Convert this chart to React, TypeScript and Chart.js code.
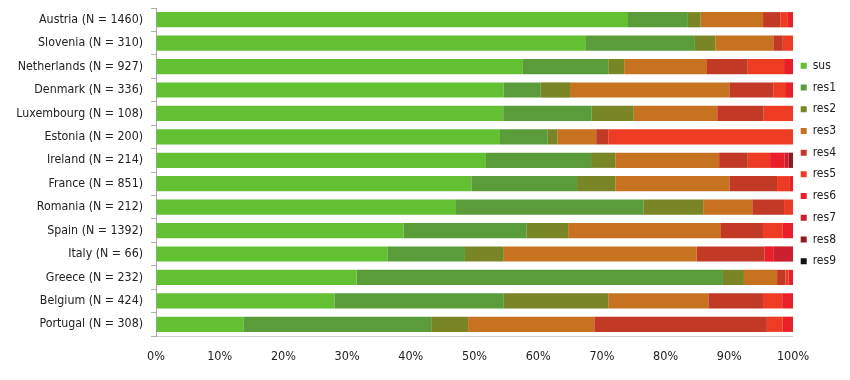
import React, { useEffect, useRef } from "react";
import { Chart, registerables } from "chart.js";

Chart.register(...registerables);

const countries = ["Austria", "Slovenia", "Netherlands", "Denmark", "Luxembourg", "Estonia", "Ireland", "France", "Romania", "Spain", "Italy", "Greece", "Belgium", "Portugal"];
const sampleSizes = [1460, 310, 927, 336, 108, 200, 214, 851, 212, 1392, 66, 232, 424, 308];

const sus = [74.1, 67.5, 57.6, 54.6, 54.5, 54.0, 51.8, 49.5, 47.1, 38.9, 36.4, 31.5, 28.0, 13.8];
const res1 = [9.4, 17.1, 13.4, 5.8, 13.9, 7.5, 16.5, 16.6, 29.4, 19.3, 12.1, 57.5, 26.6, 29.4];
const res2 = [2.0, 3.2, 2.5, 4.6, 6.6, 1.5, 3.8, 6.0, 9.4, 6.5, 6.1, 3.3, 16.4, 5.8];
const res3 = [9.8, 9.1, 13.0, 25.0, 13.1, 6.1, 16.3, 17.9, 7.7, 24.0, 30.3, 5.2, 15.7, 19.8];
const res4 = [2.7, 1.5, 6.4, 6.9, 7.3, 1.9, 4.5, 7.5, 5.0, 6.6, 10.6, 1.3, 8.6, 27.1];
const res5 = [1.2, 1.6, 5.7, 2.0, 4.6, 29.0, 3.5, 1.9, 1.4, 3.1, 0, 0.5, 3.0, 2.5];
const res6 = [0.8, 0, 1.4, 1.1, 0, 0, 2.3, 0.6, 0, 1.6, 1.5, 0.7, 1.7, 1.6];
const res7 = [0, 0, 0, 0, 0, 0, 0.6, 0, 0, 0, 3.0, 0, 0, 0];
const res8 = [0, 0, 0, 0, 0, 0, 0.7, 0, 0, 0, 0, 0, 0, 0];
const res9 = [0, 0, 0, 0, 0, 0, 0, 0, 0, 0, 0, 0, 0, 0];

const seriesNames = ["sus", "res1", "res2", "res3", "res4", "res5", "res6", "res7", "res8", "res9"];
const seriesValues = [sus, res1, res2, res3, res4, res5, res6, res7, res8, res9];
const seriesColors = ["#62c032", "#5a9b3a", "#7a8526", "#c67220", "#c23a26", "#ee3b23", "#e91f29", "#cc1f2e", "#8c1a22", "#111111"];

const xTicks = [0, 10, 20, 30, 40, 50, 60, 70, 80, 90, 100];

const FONT = "'DejaVu Sans Condensed', 'DejaVu Sans', sans-serif";

const legendShift = {
  id: "legendShift",
  afterLayout(chart: any) {
    const lg = chart.legend;
    if (!lg) return;
    const ca = chart.chartArea;
    // centre the legend items around y ≈ 163 and place boxes at x ≈ 801
    const dy = 163.5 - (ca.top + ca.bottom) / 2;
    const dx = -2;
    lg.top += dy;
    lg.bottom += dy;
    lg.left += dx;
    lg.right += dx;
  },
};

export default function App() {
  const ref = useRef<HTMLCanvasElement>(null);
  useEffect(() => {
    if (!ref.current) return;
    const labels = countries.map((c, i) => `${c} (N = ${sampleSizes[i]})`);
    const chart = new Chart(ref.current, {
      type: "bar",
      data: {
        labels,
        datasets: seriesNames.map((name, i) => ({
          label: name,
          data: seriesValues[i],
          backgroundColor: seriesColors[i],
          borderWidth: 0,
          categoryPercentage: 1,
          barPercentage: 0.65,
        })),
      },
      plugins: [legendShift],
      options: {
        indexAxis: "y",
        animation: false,
        responsive: false,
        maintainAspectRatio: false,
        layout: { padding: { top: 8, right: 2, left: 0, bottom: 0 } },
        plugins: {
          tooltip: { enabled: false },
          legend: {
            position: "right",
            fullSize: false,
            labels: {
              boxWidth: 6,
              boxHeight: 6,
              padding: 9.7,
              color: "#222",
              font: { family: FONT, size: 12 },
            },
          },
        },
        scales: {
          x: {
            stacked: true,
            min: 0,
            max: 100,
            afterBuildTicks: (scale: any) => {
              scale.ticks = xTicks.map((v) => ({ value: v }));
            },
            afterFit: (scale: any) => {
              scale.height = 44;
            },
            grid: { display: true, drawOnChartArea: false, drawTicks: false },
            border: { display: true, color: "#cfcfcf", width: 1 },
            ticks: {
              padding: 13,
              color: "#222",
              font: { family: FONT, size: 12.5 },
              callback: (v: any) => `${v}%`,
              maxRotation: 0,
            },
          },
          y: {
            stacked: true,
            afterFit: (scale: any) => {
              scale.width = 156;
              scale.paddingTop = 0;
              scale.paddingBottom = 0;
            },
            grid: { display: true, drawOnChartArea: false, drawTicks: true, tickLength: 5, color: "#b0b0b0", offset: true },
            border: { display: true, color: "#a8a8a8", width: 1 },
            ticks: {
              padding: 8,
              color: "#222",
              font: { family: FONT, size: 12.3 },
            },
          },
        },
      },
    });
    return () => chart.destroy();
  }, []);
  return (
    <div style={{ position: "fixed", left: 0, top: 0, width: 850, height: 380, background: "#fff" }}>
      <canvas ref={ref} width={850} height={380} style={{ width: 850, height: 380, display: "block" }} />
    </div>
  );
}
